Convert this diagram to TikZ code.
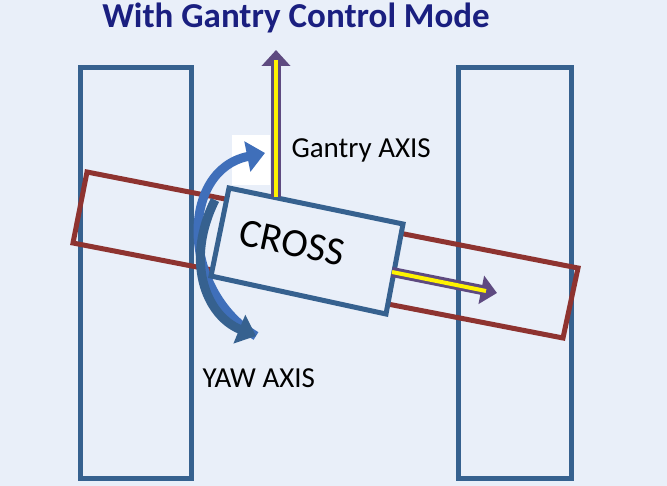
\documentclass[tikz,border=0pt]{standalone}
\usepackage{fontspec}
\setmainfont{Carlito}
\usetikzlibrary{arrows.meta}
\definecolor{bgblue}{HTML}{E9EFF9}
\definecolor{railblue}{HTML}{36618F}
\definecolor{beamred}{HTML}{8E3330}
\definecolor{axispurple}{HTML}{5E4A80}
\definecolor{yawblue}{HTML}{3F6FBA}
\definecolor{titleblue}{HTML}{1A1F80}
\tikzset{
  rail/.style={draw=railblue,line width=5pt},
  beam/.style={draw=beamred,line width=5pt},
  axisout/.style={axispurple,line width=10pt,-{Triangle[length=16pt,width=28pt]}},
  axisin/.style={yellow,line width=4pt},
  label/.style={font=\fontsize{29}{31}\selectfont}
}
\begin{document}
\begin{tikzpicture}[x=1pt,y=-1pt]
  \fill[bgblue] (0,0) rectangle (667,486);
  \useasboundingbox (0,0) rectangle (667,486);
  % Rails
  \draw[rail] (80,68) rectangle (191,478);
  \draw[rail] (458,68) rectangle (571,478);
  % Beam
  \draw[beam] (87,172) -- (578,268) -- (563,338) -- (73,243) -- cycle;
  % Yaw arrow
  \fill[white] (232,135) rectangle (270,185);
  \coordinate (yawtop) at (265,153);
  \coordinate (yawend) at (256,336);
  \draw[yawblue,line width=9pt,-{Triangle[length=18pt,width=30pt]}]
    (yawend) .. controls (180,290) and (180,170) .. (yawtop);
  \draw[railblue,line width=9pt,-{Triangle[length=18pt,width=30pt]}]
    (215,200) .. controls (185,260) and (205,315) .. (yawend);
  % Cross
  \draw[rail,fill=bgblue] (229,188) -- (403,224) -- (386,314) -- (211,276) -- cycle;
  \node[rotate=-12,font=\fontsize{40}{42}\selectfont] (cross) at (292,243) {CROSS};
  % Axes
  \coordinate (gbase) at (276,197);
  \coordinate (gtip) at (276,50);
  \draw[axisout] (gbase) -- (gtip);
  \draw[axisin] (gbase) -- (276,60);
  \coordinate (hbase) at (392,272);
  \coordinate (htip) at (497,293);
  \draw[axisout] (hbase) -- (htip);
  \draw[axisin] (hbase) -- (486,291);
  % Labels
  \node[label,anchor=west] (gantry) at (288,150) {Gantry AXIS};
  \node[label,anchor=west] (yaw) at (199,378) {YAW AXIS};
  \node[font=\bfseries\fontsize{35}{37}\selectfont,text=titleblue] (title) at (296,18) {With Gantry Control Mode};
\end{tikzpicture}
\end{document}
